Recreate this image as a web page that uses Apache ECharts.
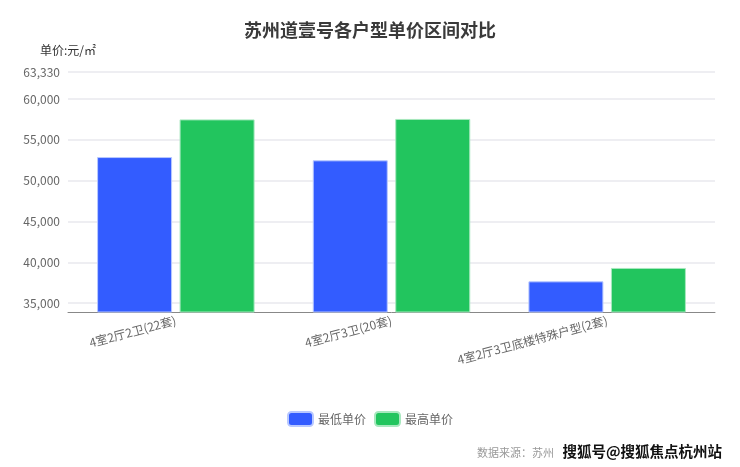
<!DOCTYPE html>
<html>
<head>
<meta charset="utf-8">
<script src="https://cdn.jsdelivr.net/npm/echarts@6/dist/echarts.min.js"></script>
<style>
html,body{margin:0;padding:0;background:#fff;}
#main{width:740px;height:467px;}
</style>
</head>
<body>
<div id="main"></div>
<script>
const categories = ['4室2厅2卫(22套)', '4室2厅3卫(20套)', '4室2厅3卫底楼特殊户型(2套)'];
const minPrice = [52900, 52500, 37660];
const maxPrice = [57520, 57573, 39300];
const seriesNames = ['最低单价', '最高单价'];
const yTicks = [35000, 40000, 45000, 50000, 55000, 60000, 63330];
const yMin = 33900;
const yMax = 63330;

const FONT = '"Noto Sans CJK SC", "Noto Sans", sans-serif';
const chart = echarts.init(document.getElementById('main'));
chart.setOption({
  animation: false,
  textStyle: { fontFamily: FONT },
  title: {
    text: '苏州道壹号各户型单价区间对比',
    left: 'center', top: 16,
    textStyle: { fontSize: 18, fontWeight: 'bold', color: '#3a3a3a', fontFamily: FONT }
  },
  legend: {
    bottom: 35, left: 'center',
    itemWidth: 25, itemHeight: 14, itemGap: 8,
    icon: 'roundRect',
    textStyle: { fontSize: 12, color: '#666', fontFamily: FONT },
    data: seriesNames
  },
  graphic: [
    { type: 'text', right: 186, bottom: 9,
      style: { text: '数据来源：苏州', fill: '#999', font: '11px "Noto Sans CJK SC"' } },
    { type: 'text', right: 17, bottom: 7,
      style: { text: '搜狐号@搜狐焦点杭州站', fill: '#111', stroke: '#fff', lineWidth: 2,
               font: 'bold 14.5px "Noto Sans CJK SC"' } }
  ],
  grid: { left: 68, right: 25, top: 72, bottom: 155 },
  xAxis: {
    type: 'category', data: categories,
    axisLine: { lineStyle: { color: '#888', width: 1 } },
    axisTick: { show: false },
    axisLabel: { rotate: 15, margin: 8, fontSize: 12, color: '#666', fontFamily: FONT, interval: 0 }
  },
  yAxis: {
    type: 'value', min: yMin, max: yMax,
    name: '单价:元/㎡',
    nameLocation: 'end', nameGap: 16,
    nameTextStyle: { color: '#333', fontSize: 12, align: 'center' },
    axisLine: { show: false }, axisTick: { show: false, customValues: yTicks },
    axisLabel: {
      customValues: yTicks, fontSize: 12, color: '#666', margin: 8,
      formatter: v => v.toLocaleString('en-US')
    },
    splitLine: { lineStyle: { color: '#e8e8ee', width: 1.5 } }
  },
  series: [
    { name: seriesNames[0], type: 'bar', data: minPrice,
      barWidth: 75, barGap: '10%',
      itemStyle: { color: '#335cff', borderColor: '#b8c8ff', borderWidth: 1 } },
    { name: seriesNames[1], type: 'bar', data: maxPrice,
      barWidth: 75, barGap: '10%',
      itemStyle: { color: '#22c55e', borderColor: '#a8e8bf', borderWidth: 1 } }
  ]
});
</script>
</body>
</html>
